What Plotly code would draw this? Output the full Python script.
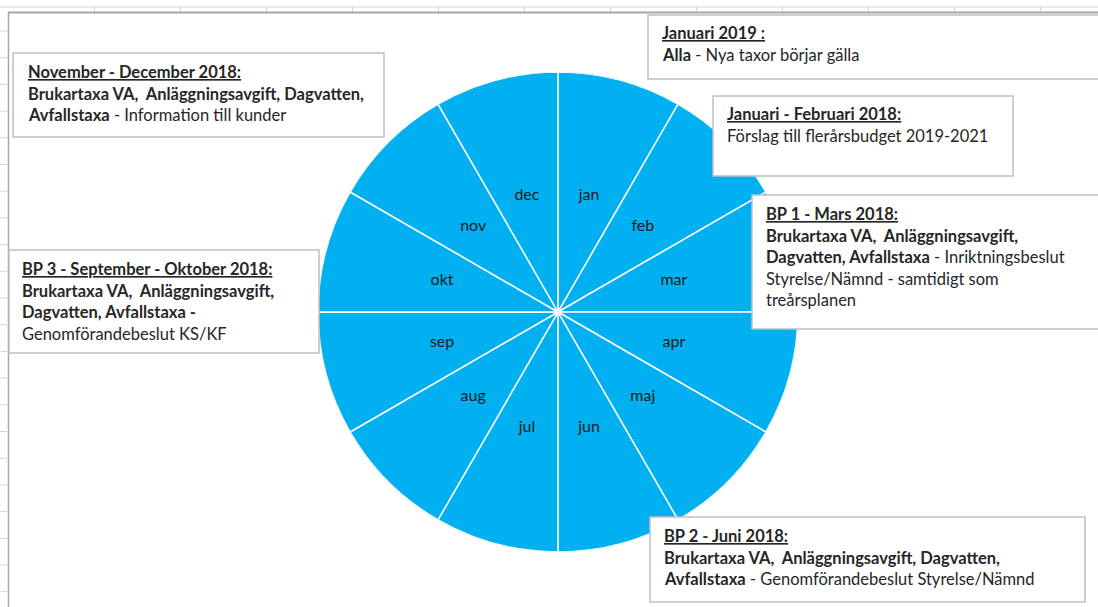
import plotly.graph_objects as go

W, H = 1098, 607

# ---- data ----
months = ["jan", "feb", "mar", "apr", "maj", "jun", "jul", "aug", "sep", "okt", "nov", "dec"]
slice_values = [1, 1, 1, 1, 1, 1, 1, 1, 1, 1, 1, 1]

box_nov_dec = [
    "<b><u>November - December 2018:</u></b>",
    "<b>Brukartaxa VA,  Anläggningsavgift, Dagvatten,</b>",
    "<b>Avfallstaxa</b> - Information till kunder",
]
box_jan_2019 = [
    "<b><u>Januari 2019 :</u></b>",
    "<b>Alla</b> - Nya taxor börjar gälla",
]
box_jan_feb = [
    "<b><u>Januari - Februari 2018:</u></b>",
    "Förslag till flerårsbudget 2019-2021",
]
box_bp1 = [
    "<b><u>BP 1 - Mars 2018:</u></b>",
    "<b>Brukartaxa VA,  Anläggningsavgift,</b>",
    "<b>Dagvatten, Avfallstaxa</b> - Inriktningsbeslut",
    "Styrelse/Nämnd - samtidigt som",
    "treårsplanen",
]
box_bp3 = [
    "<b><u>BP 3 - September - Oktober 2018:</u></b>",
    "<b>Brukartaxa VA,  Anläggningsavgift,</b>",
    "<b>Dagvatten, Avfallstaxa -</b>",
    "Genomförandebeslut KS/KF",
]
box_bp2 = [
    "<b><u>BP 2 - Juni 2018:</u></b>",
    "<b>Brukartaxa VA,  Anläggningsavgift, Dagvatten,</b>",
    "<b>Avfallstaxa</b> - Genomförandebeslut Styrelse/Nämnd",
]

FONT = "Lato"
BLUE = "#00B0F0"


def px(x):
    return x / W


def py(y):
    return 1 - y / H


fig = go.Figure()

fig.add_trace(go.Barpolar(
    r=slice_values,
    theta=months,
    marker=dict(color=BLUE, line=dict(color="white", width=1.5)),
    hoverinfo="skip",
))
fig.add_trace(go.Scatterpolar(
    r=[v * 0.5 for v in slice_values],
    theta=months,
    mode="text",
    text=months,
    textfont=dict(family=FONT, size=16, color="#1a1a1a"),
    hoverinfo="skip",
))

shapes = []
# spreadsheet background lines
shapes.append(dict(type="line", xref="paper", yref="paper", x0=0, x1=1, y0=py(7), y1=py(7),
                   line=dict(color="#d4d4d4", width=1)))
xg = 94.5
while xg < W:
    shapes.append(dict(type="line", xref="paper", yref="paper", x0=px(xg), x1=px(xg), y0=py(7), y1=py(12),
                       line=dict(color="#d4d4d4", width=1)))
    xg += 86
yg = 31
while yg < H:
    shapes.append(dict(type="line", xref="paper", yref="paper", x0=0, x1=px(7), y0=py(yg), y1=py(yg),
                       line=dict(color="#d4d4d4", width=1)))
    yg += 26.7
shapes.append(dict(type="line", xref="paper", yref="paper", x0=px(8), x1=1, y0=py(12.5), y1=py(12.5),
                   line=dict(color="#a6a6a6", width=2)))
shapes.append(dict(type="line", xref="paper", yref="paper", x0=px(8.5), x1=px(8.5), y0=py(12), y1=0,
                   line=dict(color="#a6a6a6", width=1.5)))

annotations = []


def add_box(lines, x0, y0, x1, y1, tx, ty):
    shapes.append(dict(type="rect", xref="paper", yref="paper", x0=px(x0), x1=px(x1), y0=py(y1), y1=py(y0),
                       fillcolor="white", line=dict(color="#c0c0c0", width=1.5), layer="above"))
    for i, t in enumerate(lines):
        annotations.append(dict(xref="paper", yref="paper", x=px(tx), y=py(ty + i * 21.6),
                                xanchor="left", yanchor="middle", showarrow=False, align="left",
                                text=t, font=dict(family=FONT, size=16.5, color="#262626")))


add_box(box_nov_dec, 13, 53, 384, 137, 26, 72)
add_box(box_jan_2019, 648, 15, 1120, 79, 660, 33)
add_box(box_jan_feb, 713, 96, 1013, 176, 725, 114)
add_box(box_bp1, 752, 195, 1120, 329, 764, 214)
add_box(box_bp3, 9, 250, 319, 353, 20, 269)
add_box(box_bp2, 650, 517, 1085, 602, 662, 536)

fig.update_layout(
    width=W, height=H,
    margin=dict(l=0, r=0, t=0, b=0),
    paper_bgcolor="white",
    plot_bgcolor="white",
    showlegend=False,
    hovermode=False,
    shapes=shapes,
    annotations=annotations,
    polar=dict(
        domain=dict(x=[px(318), px(798)], y=[py(552), py(72)]),
        bgcolor="rgba(0,0,0,0)",
        bargap=0,
        hole=0,
        radialaxis=dict(visible=False, range=[0, 1]),
        angularaxis=dict(visible=False, direction="clockwise", rotation=75,
                         type="category", categoryarray=months),
    ),
)

fig.write_html(
    "out.html",
    config={"displayModeBar": False},
    default_width="1098px",
    default_height="607px",
    post_script="document.body.style.margin='0';document.body.style.padding='0';document.body.style.overflow='hidden';",
)
